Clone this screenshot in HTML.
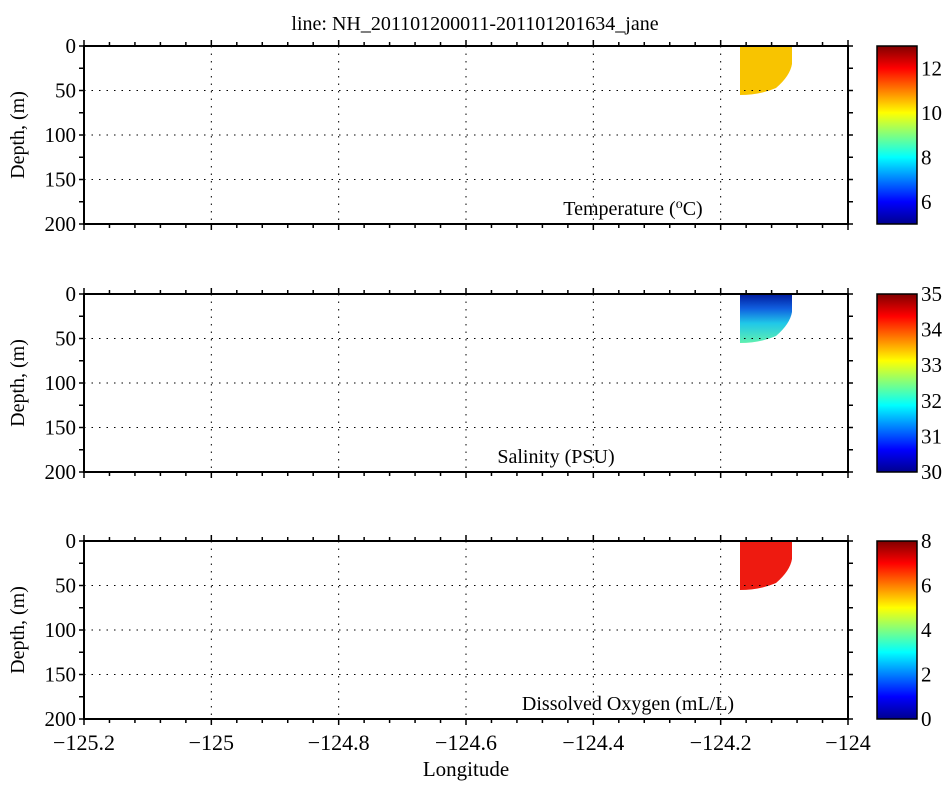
<!DOCTYPE html>
<html><head><meta charset="utf-8"><style>
body{margin:0;background:#fff}
svg text{font-family:"Liberation Serif",serif;fill:#000}
</style></head><body>
<svg id="s" width="950" height="783" xmlns="http://www.w3.org/2000/svg">
<defs>
<linearGradient id="jet" x1="0" y1="1" x2="0" y2="0">
<stop offset="0" stop-color="#00008f"/><stop offset="0.125" stop-color="#0000ff"/>
<stop offset="0.375" stop-color="#00ffff"/><stop offset="0.625" stop-color="#ffff00"/>
<stop offset="0.875" stop-color="#ff0000"/><stop offset="1" stop-color="#800000"/>
</linearGradient>
<linearGradient id="sal" x1="0" y1="0" x2="0" y2="1">
<stop offset="0" stop-color="#001a9c"/><stop offset="0.3" stop-color="#1060e0"/>
<stop offset="0.6" stop-color="#20c8e8"/><stop offset="1" stop-color="#60f0b0"/>
</linearGradient>
</defs>
<text x="475" y="30" font-size="20" text-anchor="middle">line: NH_201101200011-201101201634_jane</text>
</svg>
<script>
var s=document.getElementById('s'),h='';
var X0=84,X1=848;
var panels=[{t:46,b:224,lab:'Temperature (<tspan font-size="14" dy="-7">o</tspan><tspan dy="7">C)</tspan>',lx:633,fill:'#f8c400',cb:[5,13,[6,8,10,12]]},
{t:294,b:472,lab:'Salinity (PSU)',lx:556,fill:'url(#sal)',cb:[30,35,[30,31,32,33,34,35]]},
{t:541,b:719,lab:'Dissolved Oxygen (mL/L)',lx:628,fill:'#ee1a10',cb:[0,8,[0,2,4,6,8]]}];
panels.forEach(function(p){
 var H=p.b-p.t;
 var y50=p.t+H*55/200;
 h+='<path d="M740,'+p.t+' L792,'+p.t+' L792,'+(p.t+18)+' Q790,'+(p.t+30)+' 776,'+(p.t+42)+' Q760,'+(y50)+' 740,'+(y50)+' Z" fill="'+p.fill+'"/>';
 for(var i=1;i<6;i++){var x=X0+i*(X1-X0)/6;h+='<line x1="'+x+'" y1="'+p.t+'" x2="'+x+'" y2="'+p.b+'" stroke="#000" stroke-dasharray="1.5,6"/>';}
 for(var d=50;d<200;d+=50){var y=p.t+d*H/200;h+='<line x1="'+X0+'" y1="'+y+'" x2="'+X1+'" y2="'+y+'" stroke="#000" stroke-dasharray="1.5,6"/>';}
 for(var i=0;i<=30;i++){var x=X0+i*(X1-X0)/30,L=(i%5==0)?6:4;
  h+='<line x1="'+x+'" y1="'+(p.b)+'" x2="'+x+'" y2="'+(p.b+L)+'" stroke="#000" stroke-width="1.5"/>';
  h+='<line x1="'+x+'" y1="'+(p.t)+'" x2="'+x+'" y2="'+(p.t-L)+'" stroke="#000" stroke-width="1.5"/>';}
 for(var d=0;d<=200;d+=25){var y=p.t+d*H/200;
  h+='<line x1="'+(X0-5)+'" y1="'+y+'" x2="'+X0+'" y2="'+y+'" stroke="#000" stroke-width="1.5"/>';
  h+='<line x1="'+X1+'" y1="'+y+'" x2="'+(X1+5)+'" y2="'+y+'" stroke="#000" stroke-width="1.5"/>';
  if(d%50==0)h+='<text x="'+(X0-8)+'" y="'+(y+7)+'" font-size="21" text-anchor="end">'+d+'</text>';}
 h+='<rect x="'+X0+'" y="'+p.t+'" width="'+(X1-X0)+'" height="'+H+'" fill="none" stroke="#000" stroke-width="2"/>';
 h+='<text transform="translate(24,'+(p.t+H/2)+') rotate(-90)" font-size="20" text-anchor="middle">Depth, (m)</text>';
 h+='<text x="'+p.lx+'" y="'+(p.b-9)+'" font-size="20" text-anchor="middle">'+p.lab+'</text>';
 h+='<rect x="877" y="'+p.t+'" width="40" height="'+H+'" fill="url(#jet)" stroke="#000" stroke-width="1.5"/>';
 var c=p.cb;c[2].forEach(function(v){var y=p.b-(v-c[0])/(c[1]-c[0])*H;
  h+='<text x="921" y="'+(y+7)+'" font-size="21">'+v+'</text>';});
});
var xl=['\u2212125.2','\u2212125','\u2212124.8','\u2212124.6','\u2212124.4','\u2212124.2','\u2212124'];
xl.forEach(function(t,i){h+='<text x="'+(X0+i*(X1-X0)/6)+'" y="750" font-size="22" text-anchor="middle">'+t+'</text>';});
h+='<text x="466" y="776" font-size="21" text-anchor="middle">Longitude</text>';
s.insertAdjacentHTML('beforeend',h);
</script>
</body></html>
